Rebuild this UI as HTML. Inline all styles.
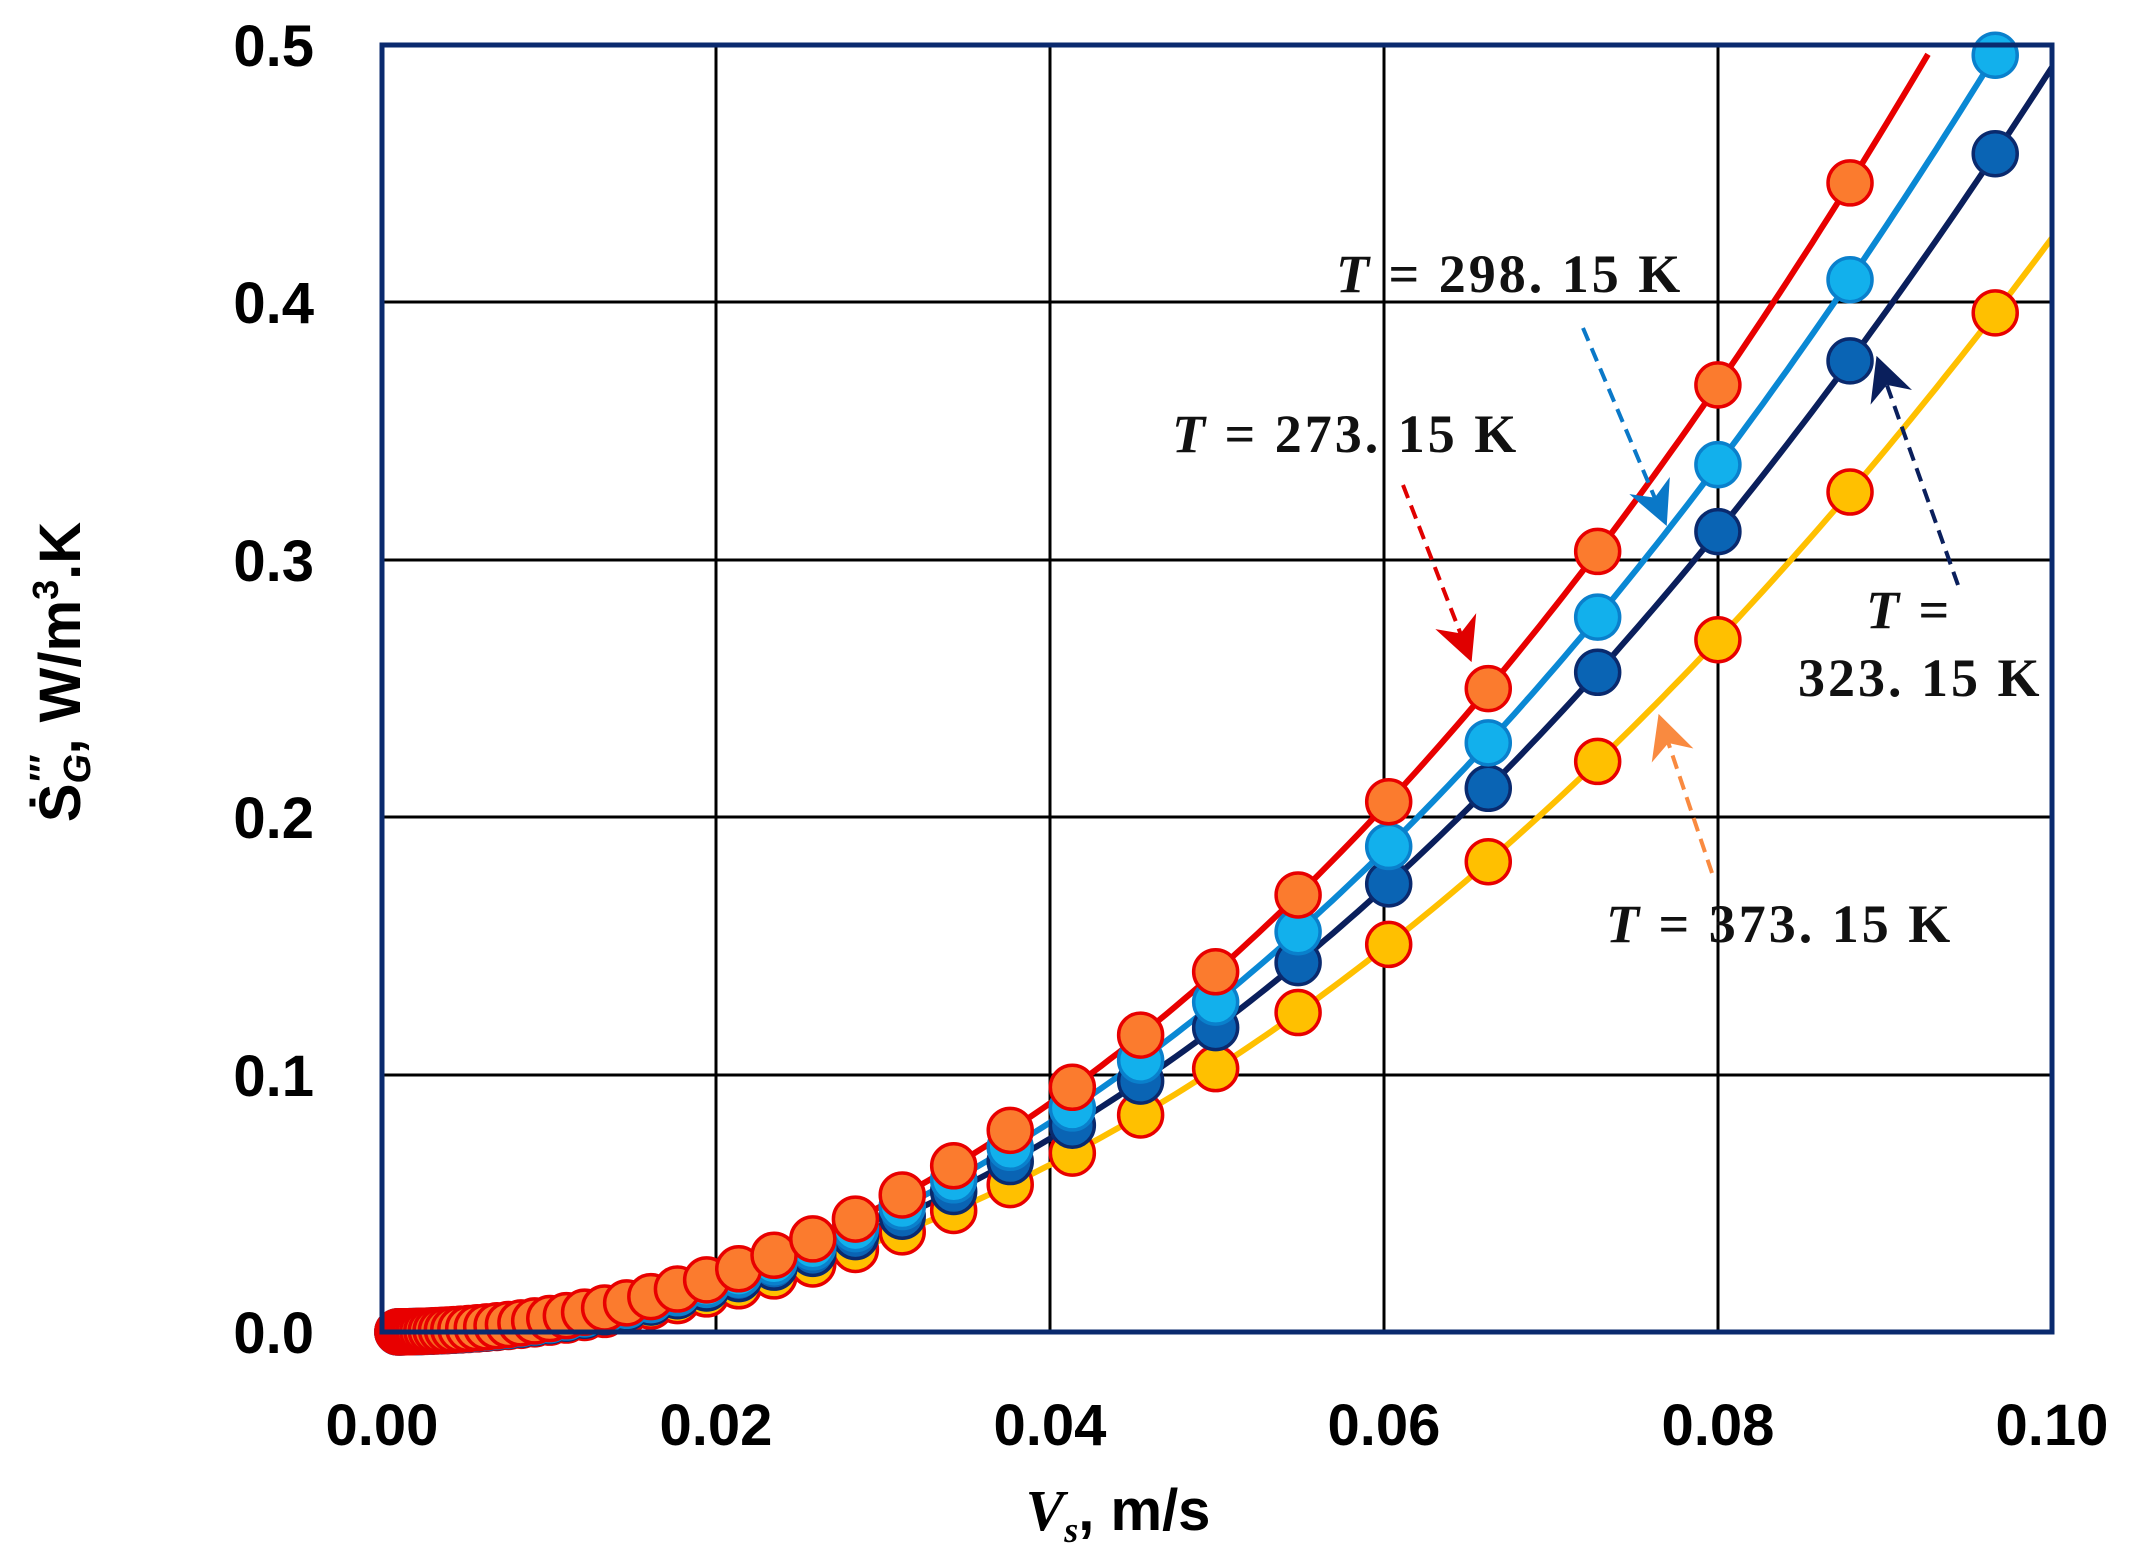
<!DOCTYPE html>
<html><head><meta charset="utf-8"><style>
html,body{margin:0;padding:0;background:#fff;}
svg{display:block;}
.tk{font-family:"Liberation Sans",sans-serif;font-weight:bold;font-size:58px;fill:#000;}
.an{font-family:"Liberation Serif",serif;font-weight:bold;font-size:54px;fill:#111;letter-spacing:3px;}
</style></head><body>
<svg id="s" width="2129" height="1563" viewBox="0 0 2129 1563" xmlns="http://www.w3.org/2000/svg">
<defs>
<marker id="ar" viewBox="0 0 10 10" refX="9" refY="5" markerWidth="11" markerHeight="11" orient="auto"><path d="M0,0 L10,5 L0,10 L3,5 z" fill="#e00000"/></marker>
<marker id="ab" viewBox="0 0 10 10" refX="9" refY="5" markerWidth="11" markerHeight="11" orient="auto"><path d="M0,0 L10,5 L0,10 L3,5 z" fill="#0a78c8"/></marker>
<marker id="an" viewBox="0 0 10 10" refX="9" refY="5" markerWidth="11" markerHeight="11" orient="auto"><path d="M0,0 L10,5 L0,10 L3,5 z" fill="#0a1f5c"/></marker>
<marker id="ao" viewBox="0 0 10 10" refX="9" refY="5" markerWidth="11" markerHeight="11" orient="auto"><path d="M0,0 L10,5 L0,10 L3,5 z" fill="#f98a40"/></marker>
</defs>
<g stroke="#000" stroke-width="3">
<line x1="716" y1="45" x2="716" y2="1332"/><line x1="1050" y1="45" x2="1050" y2="1332"/><line x1="1384" y1="45" x2="1384" y2="1332"/><line x1="1718" y1="45" x2="1718" y2="1332"/>
<line x1="382" y1="302" x2="2052" y2="302"/><line x1="382" y1="560" x2="2052" y2="560"/><line x1="382" y1="817" x2="2052" y2="817"/><line x1="382" y1="1075" x2="2052" y2="1075"/>
</g>
<g id="data"></g>
<rect x="382" y="45" width="1670" height="1287" fill="none" stroke="#0a2a6e" stroke-width="5"/>
<g class="tk" text-anchor="end">
<text x="314" y="66">0.5</text><text x="314" y="323">0.4</text><text x="314" y="581">0.3</text><text x="314" y="838">0.2</text><text x="314" y="1096">0.1</text><text x="314" y="1353">0.0</text>
</g>
<g class="tk" text-anchor="middle">
<text x="382" y="1445">0.00</text><text x="716" y="1445">0.02</text><text x="1050" y="1445">0.04</text><text x="1384" y="1445">0.06</text><text x="1718" y="1445">0.08</text><text x="2052" y="1445">0.10</text>
</g>
<text x="1118" y="1530" class="tk" text-anchor="middle"><tspan font-family="Liberation Serif" font-style="italic">V</tspan><tspan font-family="Liberation Serif" font-style="italic" font-size="36" dy="12">s</tspan><tspan dy="-12">, m/s</tspan></text>
<text transform="translate(80,672) rotate(-90)" class="tk" text-anchor="middle">Ṡ<tspan font-size="38" font-style="italic" dy="10">G</tspan><tspan font-size="38" dy="-34" dx="-28">′′′</tspan><tspan dy="24">, W/m</tspan><tspan font-size="36" dy="-22">3</tspan><tspan dy="22">.K</tspan></text>
<g fill="none" stroke-width="4" stroke-dasharray="14,8">
<line x1="1403" y1="485" x2="1470" y2="658" stroke="#e00000" marker-end="url(#ar)"/>
<line x1="1583" y1="328" x2="1665" y2="522" stroke="#0a78c8" marker-end="url(#ab)"/>
<line x1="1958" y1="585" x2="1878" y2="360" stroke="#0a1f5c" marker-end="url(#an)"/>
<line x1="1712" y1="873" x2="1660" y2="718" stroke="#f98a40" marker-end="url(#ao)"/>
</g>
<text class="an" x="1336" y="292"><tspan font-style="italic">T</tspan> = 298. 15 K</text>
<text class="an" x="1172" y="452"><tspan font-style="italic">T</tspan> = 273. 15 K</text>
<text class="an" x="1866" y="628"><tspan font-style="italic">T</tspan> =</text>
<text class="an" x="1798" y="696">323. 15 K</text>
<text class="an" x="1606" y="942"><tspan font-style="italic">T</tspan> = 373. 15 K</text>
</svg>
<script>
(function(){
var NS="http://www.w3.org/2000/svg",g=document.getElementById("data");
function X(v){return 382+v/0.1*1670;}function Y(v){return 1332-v/0.5*1287;}
var E=2.05;
var S=[{a:0.269,lc:"#ffc000",f:"#ffc000",s:"#e80000"},{a:0.311,lc:"#0a1f5c",f:"#0a64b4",s:"#0a2a6e"},{a:0.337,lc:"#0a88d4",f:"#12b0ec",s:"#0a80cc"},{a:0.368,lc:"#e80000",f:"#fb7b2e",s:"#e80000"}];
var xs=[];for(var x=0.0966;x>0.0009;x*=0.91)xs.push(x);
S.forEach(function(s){
 var d="";
 for(var i=0;i<=200;i++){var v=0.001+i*(0.099/200);var y=s.a*Math.pow(v/0.08,E);if(y>0.5){break;}d+=(i?"L":"M")+X(v).toFixed(1)+","+Y(y).toFixed(1);}
 var p=document.createElementNS(NS,"path");p.setAttribute("d",d);p.setAttribute("fill","none");p.setAttribute("stroke",s.lc);p.setAttribute("stroke-width","6");g.appendChild(p);
});
S.forEach(function(s){
 for(var i=xs.length-1;i>=0;i--){var v=xs[i],y=s.a*Math.pow(v/0.08,E);if(y>0.51)continue;
  var c=document.createElementNS(NS,"circle");c.setAttribute("cx",X(v));c.setAttribute("cy",Y(y));c.setAttribute("r","22");
  var f=s.f,st=s.s;if(v<0.0045&&s.a>0.36){f=v<0.002?"#e80000":"#f56a20";}
  c.setAttribute("fill",f);c.setAttribute("stroke",st);c.setAttribute("stroke-width","3.5");g.appendChild(c);}
});
})();
</script>
</body></html>
